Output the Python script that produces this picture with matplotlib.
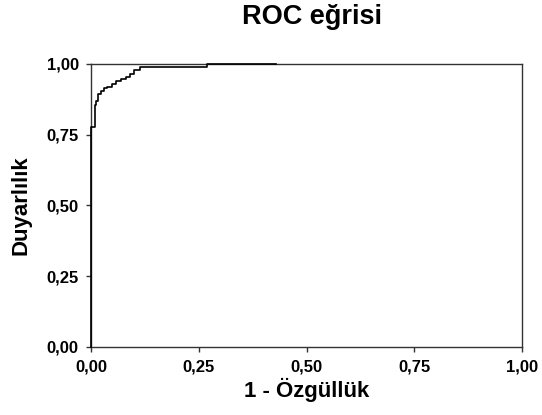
import matplotlib.pyplot as plt
from matplotlib.ticker import FuncFormatter

plt.rcParams['font.family'] = ['Liberation Sans', 'DejaVu Sans']
plt.rcParams['font.weight'] = 'bold'

# ROC points (1 - specificity, sensitivity), step curve
fpr = [0.0, 0.0, 0.009, 0.012, 0.016, 0.022, 0.030, 0.038, 0.048, 0.058,
       0.070, 0.080, 0.090, 0.100, 0.113, 0.270, 0.430]
tpr = [0.0, 0.776, 0.855, 0.870, 0.895, 0.905, 0.915, 0.920, 0.930, 0.940,
       0.945, 0.955, 0.965, 0.978, 0.988, 1.000, 1.000]

ticks = [0.0, 0.25, 0.5, 0.75, 1.0]

fig = plt.figure(figsize=(5.42, 4.15), dpi=100)
ax = fig.add_axes([0.168, 0.164, 0.795, 0.682])

ax.plot(fpr, tpr, drawstyle='steps-post', color='black', lw=1.2, clip_on=False, zorder=5)

ax.set_xlim(0, 1)
ax.set_ylim(0, 1)
ax.set_xticks(ticks)
ax.set_yticks(ticks)
fmt = FuncFormatter(lambda v, p: f'{v:.2f}'.replace('.', ','))
ax.xaxis.set_major_formatter(fmt)
ax.yaxis.set_major_formatter(fmt)
ax.tick_params(direction='out', length=3.8, width=1, labelsize=12, pad=5,
               color='#333333')
for s in ax.spines.values():
    s.set_linewidth(1.0)
    s.set_color('#333333')

ax.set_xlabel('1 - Özgüllük', fontsize=16, fontweight='bold', labelpad=3)
ax.set_ylabel('Duyarlılık', fontsize=16, fontweight='bold', labelpad=11)
fig.text(0.576, 0.958, 'ROC eğrisi', fontsize=19.5, fontweight='bold', ha='center', va='center')

fig.savefig('out.png', dpi=100)
